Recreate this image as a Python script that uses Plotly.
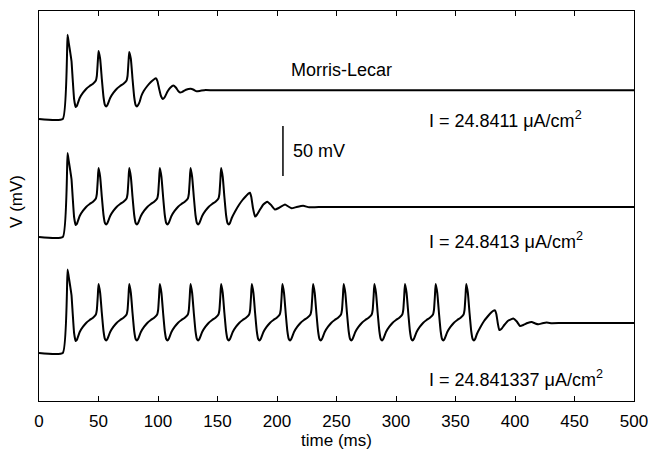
import plotly.graph_objects as go

# ---------------- data ----------------
# time in ms, membrane potential in mV
t1 = [0, 20, 24.0, 25.0, 26.2, 27.3, 28.3, 29.5, 30.8, 31.8, 34.2, 37.0, 39.8, 42.6, 45.4, 47.8, 48.6, 49.4, 50.0,
      51.4, 52.8, 54.2, 55.4, 56.5, 57.5, 59.8, 62.6, 65.4, 68.2, 71.0, 73.6, 74.4, 75.2, 75.8,
      77.2, 78.6, 80.0, 81.2, 82.3, 83.3, 84.5, 86.0, 88.0, 91.0, 94.0, 96.5, 98.3, 99.5, 101.0, 102.5, 104.0,
      105.5, 108.0, 110.5, 112.9, 115.0, 117.0, 118.6, 120.5, 123.5, 127.5, 130.0, 132.5, 135.5, 140.0, 146.0,
      155.0, 500]
v1 = [-60, -60, 24.3, 16, 7, -2, -20, -40, -48, -47, -39, -33.7, -29.7, -27, -24.7, -21.5, -17, -3, 8,
      0, -20, -38, -46, -47.5, -46, -39, -33.7, -29.7, -27, -24.7, -21.5, -17, -3, 7,
      0, -20, -38, -46, -47.5, -46, -43, -37, -32, -27, -23, -20.5, -19.2, -22, -30, -37, -40,
      -38.5, -32.5, -28.5, -26.5, -28.5, -32, -33.5, -32.8, -30.8, -29.8, -30.8, -32.3, -31.8, -31, -31.3,
      -31.2, -31.2]

t2 = [0, 20, 24.0, 25.0, 26.2, 27.3, 28.3, 29.5, 30.8, 31.8, 34.2, 37.0, 39.8, 42.6, 45.4, 47.8, 48.6, 49.4, 50.0,
      51.4, 52.8, 54.2, 55.4, 56.5, 57.5, 59.8, 62.6, 65.4, 68.2, 71.0, 73.6, 74.4, 75.2, 75.8,
      77.2, 78.6, 80.0, 81.2, 82.3, 83.3, 85.6, 88.4, 91.2, 94.0, 96.8, 99.3, 100.1, 100.9, 101.5,
      102.9, 104.3, 105.7, 106.9, 108.0, 109.0, 111.3, 114.1, 116.9, 119.7, 122.5, 125.1, 125.9, 126.7, 127.3,
      128.7, 130.1, 131.5, 132.7, 133.8, 134.8, 137.1, 139.9, 142.7, 145.5, 148.3, 150.8, 151.6, 152.4, 153.0,
      154.4, 155.8, 157.2, 158.4, 159.5, 160.5, 162.0, 165.0, 168.0, 171.0, 174.0, 176.0, 177.3, 178.4, 179.8,
      181.5, 183.0, 185.5, 188.5, 191.9, 195.0, 198.3, 201.5, 206.7, 209.5, 212.3, 216.5, 222.0, 227.0, 235.0,
      500]
v2 = [-60, -60, 24, 16, 7, -2, -20, -40, -48, -47, -39, -33.7, -29.7, -27, -24.7, -21.5, -17, -3, 9,
      0, -20, -38, -46, -47.5, -46, -39, -33.7, -29.7, -27, -24.7, -21.5, -17, -3, 9,
      0, -20, -38, -46, -47.5, -46, -39, -33.7, -29.7, -27, -24.7, -21.5, -17, -3, 9,
      0, -20, -38, -46, -47.5, -46, -39, -33.7, -29.7, -27, -24.7, -21.5, -17, -3, 9,
      0, -20, -38, -46, -47.5, -46, -39, -33.7, -29.7, -27, -24.7, -21.5, -17, -3, 9,
      0, -20, -38, -46, -47.5, -46, -41, -34, -28, -23, -19, -16.5, -15.7, -20, -31,
      -39.5, -38, -33, -27.5, -24.7, -28, -32.5, -31, -27.5, -29.5, -31.3, -30, -28.8, -30.3, -30,
      -30]

t3 = [0, 20, 24.0, 25.0, 26.2, 27.3, 28.3, 29.5, 30.8, 31.8, 34.2, 37.0, 39.8, 42.6, 45.4, 47.8, 48.6, 49.4, 50.0,
      51.4, 52.8, 54.2, 55.4, 56.5, 57.5, 59.8, 62.6, 65.4, 68.2, 71.0, 73.6, 74.4, 75.2, 75.8,
      77.2, 78.6, 80.0, 81.2, 82.3, 83.3, 85.6, 88.4, 91.2, 94.0, 96.8, 99.3, 100.1, 100.9, 101.5,
      102.9, 104.3, 105.7, 106.9, 108.0, 109.0, 111.3, 114.1, 116.9, 119.7, 122.5, 125.1, 125.9, 126.7, 127.3,
      128.7, 130.1, 131.5, 132.7, 133.8, 134.8, 137.1, 139.9, 142.7, 145.5, 148.3, 150.8, 151.6, 152.4, 153.0,
      154.4, 155.8, 157.2, 158.4, 159.5, 160.5, 162.8, 165.6, 168.4, 171.2, 174.0, 176.6, 177.4, 178.2, 178.8,
      180.2, 181.6, 183.0, 184.2, 185.3, 186.3, 188.6, 191.4, 194.2, 197.0, 199.8, 202.3, 203.1, 203.9, 204.5,
      205.9, 207.3, 208.7, 209.9, 211.0, 212.0, 214.3, 217.1, 219.9, 222.7, 225.5, 228.1, 228.9, 229.7, 230.3,
      231.7, 233.1, 234.5, 235.7, 236.8, 237.8, 240.1, 242.9, 245.7, 248.5, 251.3, 253.8, 254.6, 255.4, 256.0,
      257.4, 258.8, 260.2, 261.4, 262.5, 263.5, 265.8, 268.6, 271.4, 274.2, 277.0, 279.6, 280.4, 281.2, 281.8,
      283.2, 284.6, 286.0, 287.2, 288.3, 289.3, 291.6, 294.4, 297.2, 300.0, 302.8, 305.3, 306.1, 306.9, 307.5,
      308.9, 310.3, 311.7, 312.9, 314.0, 315.0, 317.3, 320.1, 322.9, 325.7, 328.5, 331.1, 331.9, 332.7, 333.3,
      334.7, 336.1, 337.5, 338.7, 339.8, 340.8, 343.1, 345.9, 348.7, 351.5, 354.3, 356.8, 357.6, 358.4, 359.0,
      360.4, 361.8, 363.2, 364.4, 365.5, 366.5, 368.0, 371.0, 374.0, 377.0, 380.0, 382.0, 383.2, 384.3, 385.5,
      386.8, 388.5, 391.0, 394.5, 398.6, 401.5, 404.2, 407.0, 410.5, 414.0, 417.0, 419.6, 423.0, 426.6, 431.0,
      440.0, 500]
v3 = [-60, -60, 23.5, 16, 7, -2, -20, -40, -48, -47, -39, -33.7, -29.7, -27, -24.7, -21.5, -17, -3, 9,
      0, -20, -38, -46, -47.5, -46, -39, -33.7, -29.7, -27, -24.7, -21.5, -17, -3, 9,
      0, -20, -38, -46, -47.5, -46, -39, -33.7, -29.7, -27, -24.7, -21.5, -17, -3, 9,
      0, -20, -38, -46, -47.5, -46, -39, -33.7, -29.7, -27, -24.7, -21.5, -17, -3, 9,
      0, -20, -38, -46, -47.5, -46, -39, -33.7, -29.7, -27, -24.7, -21.5, -17, -3, 9,
      0, -20, -38, -46, -47.5, -46, -39, -33.7, -29.7, -27, -24.7, -21.5, -17, -3, 9,
      0, -20, -38, -46, -47.5, -46, -39, -33.7, -29.7, -27, -24.7, -21.5, -17, -3, 9,
      0, -20, -38, -46, -47.5, -46, -39, -33.7, -29.7, -27, -24.7, -21.5, -17, -3, 9,
      0, -20, -38, -46, -47.5, -46, -39, -33.7, -29.7, -27, -24.7, -21.5, -17, -3, 9,
      0, -20, -38, -46, -47.5, -46, -39, -33.7, -29.7, -27, -24.7, -21.5, -17, -3, 9,
      0, -20, -38, -46, -47.5, -46, -39, -33.7, -29.7, -27, -24.7, -21.5, -17, -3, 9,
      0, -20, -38, -46, -47.5, -46, -39, -33.7, -29.7, -27, -24.7, -21.5, -17, -3, 9,
      0, -20, -38, -46, -47.5, -46, -39, -33.7, -29.7, -27, -24.7, -21.5, -17, -3, 9,
      0, -20, -38, -46, -47.5, -46, -41, -34, -28, -23.5, -19.5, -17.6, -17.3, -21, -30,
      -37, -36, -32, -27.5, -25.6, -28.5, -33, -32, -30, -29, -30.5, -31.3, -30.3, -29.6, -30.2,
      -30, -30]

currents = ["24.8411", "24.8413", "24.841337"]
x_ticks = [0, 50, 100, 150, 200, 250, 300, 350, 400, 450, 500]
scale_bar_mV = 50

# ---------------- layout constants ----------------
offsets = [342, 224, 108]           # vertical stacking of the three traces
label_y = [281.5, 161, 23]
label_x = 326
FONT = "Liberation Sans, Arial, Helvetica, sans-serif"
FS = 18
FS_AX = 17

fig = go.Figure()
for t, v, off in zip([t1, t2, t3], [v1, v2, v3], offsets):
    fig.add_trace(go.Scatter(x=t, y=[val + off for val in v], mode="lines",
                             line=dict(color="black", width=2, shape="spline", smoothing=0.4),
                             showlegend=False, hoverinfo="skip"))

# scale bar
sb_x, sb_y0 = 205, 225
fig.add_trace(go.Scatter(x=[sb_x, sb_x], y=[sb_y0, sb_y0 + scale_bar_mV], mode="lines",
                         line=dict(color="black", width=1.5), showlegend=False, hoverinfo="skip"))

ann = []
ann.append(dict(x=sb_x + 6.5, y=sb_y0 + scale_bar_mV / 2, text=f"{scale_bar_mV} mV",
                xanchor="left", yanchor="middle", showarrow=False))
ann.append(dict(x=254, y=331, text="Morris-Lecar", xanchor="center", yanchor="middle", showarrow=False))
for cur, ly in zip(currents, label_y):
    ann.append(dict(x=label_x, y=ly, text=f"I = {cur} μA/cm<sup>2</sup>",
                    xanchor="left", yanchor="middle", showarrow=False))
ann.append(dict(x=-0.037, y=0.513, xref="paper", yref="paper", text="V (mV)", textangle=-90,
                xanchor="center", yanchor="middle", showarrow=False,
                font=dict(family=FONT, size=FS_AX, color="black")))
for a in ann:
    a.setdefault("font", dict(family=FONT, size=FS, color="black"))

# the page body adds an 8 px margin, so the figure is sized/offset to compensate
fig.update_layout(
    width=648, height=442,
    margin=dict(l=31, r=22, t=3, b=49),
    paper_bgcolor="white", plot_bgcolor="white",
    font=dict(family=FONT, size=FS, color="black"),
    annotations=ann,
    xaxis=dict(range=[0, 500], tickvals=x_ticks, ticks="inside", ticklen=5, tickwidth=1,
               tickcolor="black", showline=True, linecolor="black", linewidth=1, mirror="ticks",
               showgrid=False, zeroline=False, ticklabelstandoff=5,
               title=dict(text="time (ms)", font=dict(family=FONT, size=FS_AX), standoff=3),
               tickfont=dict(family=FONT, size=FS_AX)),
    yaxis=dict(range=[0, 390], showticklabels=False, ticks="", showline=True, linecolor="black",
               linewidth=1, mirror=True, showgrid=False, zeroline=False),
)

fig.write_html("out.html")
